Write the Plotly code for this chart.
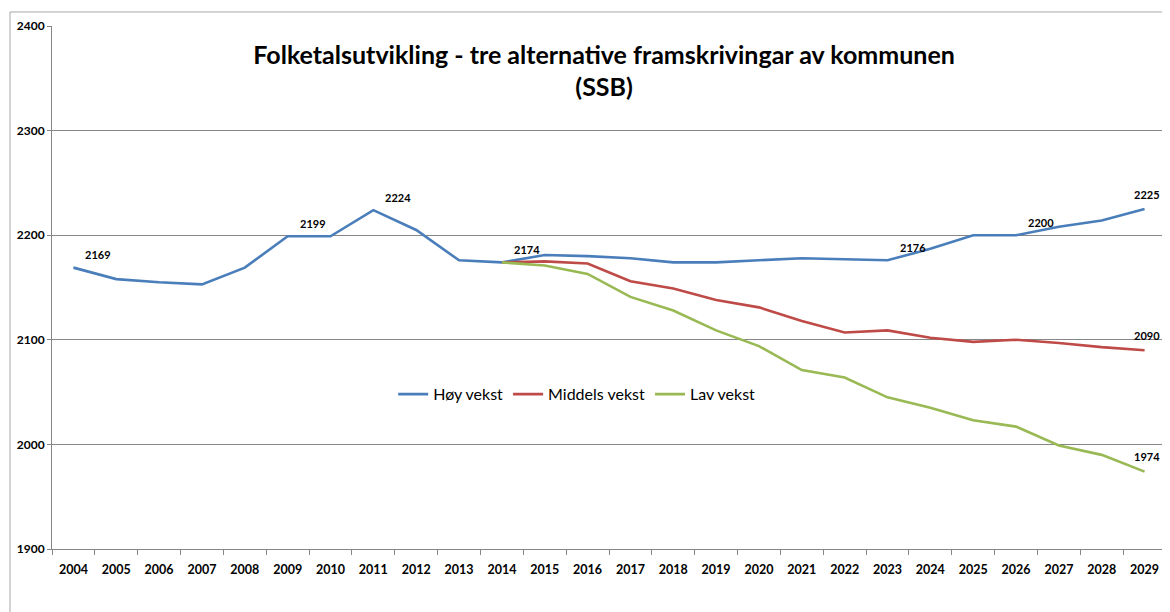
import plotly.graph_objects as go

years = [str(y) for y in range(2004, 2030)]

# Høy vekst covers the full period, the two other scenarios start in 2014
hoy = [2169, 2158, 2155, 2153, 2169, 2199, 2199, 2224, 2205, 2176, 2174,
       2181, 2180, 2178, 2174, 2174, 2176, 2178, 2177, 2176, 2187, 2200,
       2200, 2208, 2214, 2225]
middels = [None] * 10 + [2174, 2175, 2173, 2156, 2149, 2138, 2131, 2118, 2107,
                         2109, 2102, 2098, 2100, 2097, 2093, 2090]
lav = [None] * 10 + [2174, 2171, 2163, 2141, 2128, 2109, 2094, 2071, 2064,
                     2045, 2035, 2023, 2017, 1999, 1990, 1974]

# which points carry a value label (series, year)
label_points = [("hoy", "2004"), ("hoy", "2009"), ("hoy", "2011"), ("hoy", "2014"),
                ("hoy", "2023"), ("hoy", "2026"), ("hoy", "2029"),
                ("middels", "2029"), ("lav", "2029")]

series = {"hoy": hoy, "middels": middels, "lav": lav}
names = {"hoy": "Høy vekst", "middels": "Middels vekst", "lav": "Lav vekst"}
colors = {"hoy": "#4A7EBB", "middels": "#BE4B48", "lav": "#98B954"}

fig = go.Figure()
for key in ["hoy", "middels", "lav"]:
    fig.add_trace(go.Scatter(x=years, y=series[key], mode="lines", name=names[key],
                             line=dict(color=colors[key], width=2.6)))

for key, yr in label_points:
    i = years.index(yr)
    val = series[key][i]
    last = i == len(years) - 1
    # category axis: position annotations by index
    fig.add_annotation(x=i, y=val, text="<b>%d</b>" % val, showarrow=False,
                       xshift=2 if last else 25, yshift=15 if last else 13,
                       font=dict(size=11, color="black", family="Lato"))

# light outer chart frame
fig.add_shape(type="rect", xref="paper", yref="paper",
              x0=-0.0377, x1=1.1, y0=-0.3, y1=1.0268,
              line=dict(color="#A6A6A6", width=1), layer="below")

# page body has an 8px margin, so the figure is drawn a bit smaller
fig.update_layout(
    width=1162, height=604,
    margin=dict(l=44, r=4, t=18, b=63, autoexpand=False),
    paper_bgcolor="white", plot_bgcolor="white",
    font=dict(family="Lato", color="black"),
    title=dict(text="<b>Folketalsutvikling - tre alternative framskrivingar av kommunen<br>(SSB)</b>",
               x=0.513, xanchor="center", y=0.908, yanchor="middle", yref="container",
               font=dict(size=25, family="Lato", color="black")),
    legend=dict(orientation="h", x=0.471, xanchor="center", y=0.296, yanchor="middle",
                font=dict(size=16, family="Lato"), bgcolor="rgba(0,0,0,0)",
                itemwidth=30),
    showlegend=True,
)
fig.update_xaxes(type="category", range=[-0.5, len(years) - 0.5],
                 tickson="boundaries", ticks="outside", ticklen=5, tickangle=0,
                 ticklabelstandoff=9,
                 tickcolor="#868686", showline=True, linecolor="#868686",
                 showgrid=False, tickfont=dict(size=12.5, family="Lato", color="black"),
                 tickprefix="<b>", ticksuffix="</b>", automargin=False)
fig.update_yaxes(range=[1900, 2400], dtick=100, ticks="outside", ticklen=4,
                 tickcolor="#868686", showline=True, linecolor="#868686",
                 gridcolor="#868686", gridwidth=1, zeroline=False,
                 tickfont=dict(size=12, family="Lato", color="black"),
                 tickprefix="<b>", ticksuffix="</b>", automargin=False)

fig.write_html("out.html")
